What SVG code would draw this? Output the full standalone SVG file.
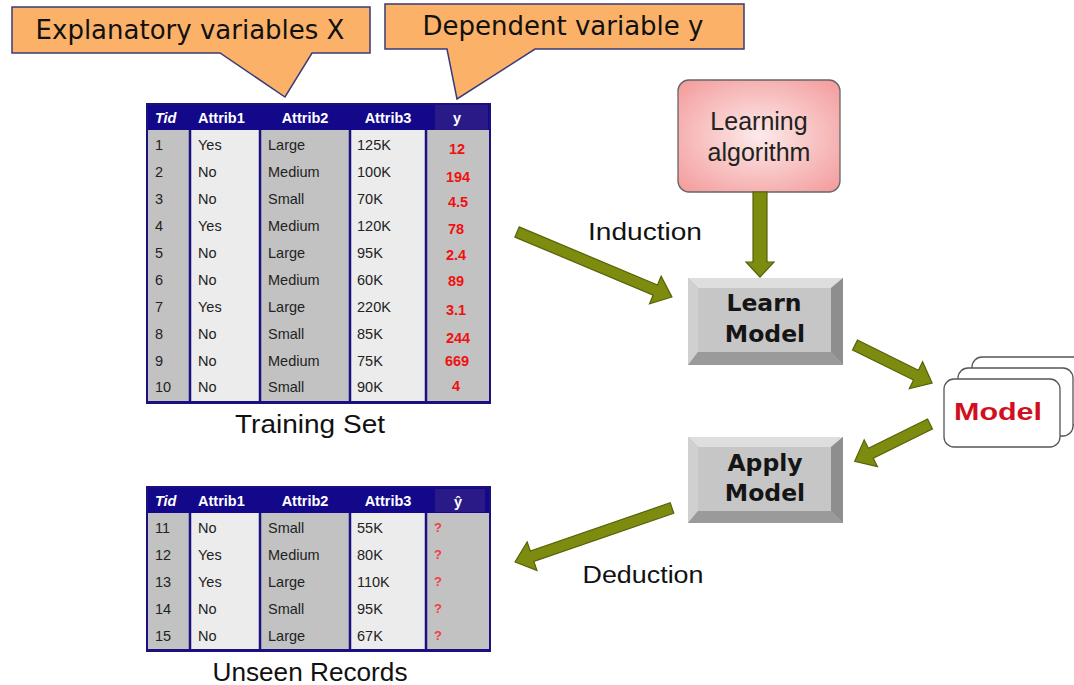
<svg xmlns="http://www.w3.org/2000/svg" width="1074" height="685" viewBox="0 0 1074 685">
<style>
.callout{fill:#fbb268;stroke:#3a3a7a;stroke-width:1.5}
.ct{font-family:"DejaVu Sans",Verdana,sans-serif;font-size:26px;fill:#111;text-anchor:middle}
.hd{font-family:"Liberation Sans",Arial,sans-serif;font-size:14.5px;font-weight:bold;fill:#fff}
.cell{font-family:"Liberation Sans",Arial,sans-serif;font-size:14.5px;fill:#222}
.yv{font-family:"Liberation Sans",Arial,sans-serif;font-size:14.5px;font-weight:bold;fill:#f01010;text-anchor:middle}
.q{font-family:"Liberation Sans",Arial,sans-serif;font-size:13px;font-weight:bold;fill:#f04040}
.cap{font-family:"Liberation Sans",Arial,sans-serif;fill:#111;text-anchor:middle}
.btn{font-family:"DejaVu Sans",Verdana,sans-serif;font-size:23.5px;font-weight:bold;fill:#151515;text-anchor:middle}
.gray{fill:#c2c2c2}
.light{fill:#ececec}
.sep{stroke:#1a1080;stroke-width:2.5}
.arr{fill:#7d8c0e;stroke:#56620a;stroke-width:1.2}
.mcard{fill:#fff;stroke:#555;stroke-width:1.3}
</style>
<defs>
<radialGradient id="pink" cx="0.5" cy="0.5" r="0.7">
<stop offset="0" stop-color="#fdeaea"/>
<stop offset="1" stop-color="#f39a9a"/>
</radialGradient>
</defs>
<rect width="1074" height="685" fill="#fff"/>

<g id="callout-x">
<path class="callout" d="M12,7 H370 V53 H312 L285,97 L220,53 H12 Z"/>
<text class="ct" x="190" y="39">Explanatory variables X</text>
</g>
<g id="callout-y">
<path class="callout" d="M385,4 H744 V49 H535 L457,99 L447,49 H385 Z"/>
<text class="ct" x="563" y="35">Dependent variable y</text>
</g>

<g id="training-set">
<rect x="147" y="104" width="343" height="26" fill="#14088a"/>
<rect x="435" y="104" width="53" height="26" fill="#2a1a88"/>
<rect class="gray" x="147" y="130" width="43" height="273"/>
<rect class="light" x="190" y="130" width="70" height="273"/>
<rect class="gray" x="260" y="130" width="90" height="273"/>
<rect class="light" x="350" y="130" width="76" height="273"/>
<rect class="gray" x="426" y="130" width="64" height="273"/>
<line class="sep" x1="190" y1="130" x2="190" y2="403"/>
<line class="sep" x1="260" y1="130" x2="260" y2="403"/>
<line class="sep" x1="350" y1="130" x2="350" y2="403"/>
<line class="sep" x1="426" y1="130" x2="426" y2="403"/>
<rect x="147" y="104" width="343" height="299" fill="none" stroke="#1a1080" stroke-width="2"/>
<line x1="146" y1="402.5" x2="491" y2="402.5" stroke="#1a1080" stroke-width="3"/>
<text class="hd" x="155" y="123" font-style="italic">Tid</text>
<text class="hd" x="198" y="123">Attrib1</text>
<text class="hd" x="305" y="123" text-anchor="middle">Attrib2</text>
<text class="hd" x="388" y="123" text-anchor="middle">Attrib3</text>
<text class="hd" x="457" y="123" text-anchor="middle" font-size="16">y</text>
<g class="cell">
<text x="155" y="150">1</text><text x="198" y="150">Yes</text><text x="268" y="150">Large</text><text x="357" y="150">125K</text>
<text x="155" y="177">2</text><text x="198" y="177">No</text><text x="268" y="177">Medium</text><text x="357" y="177">100K</text>
<text x="155" y="204">3</text><text x="198" y="204">No</text><text x="268" y="204">Small</text><text x="357" y="204">70K</text>
<text x="155" y="231">4</text><text x="198" y="231">Yes</text><text x="268" y="231">Medium</text><text x="357" y="231">120K</text>
<text x="155" y="258">5</text><text x="198" y="258">No</text><text x="268" y="258">Large</text><text x="357" y="258">95K</text>
<text x="155" y="285">6</text><text x="198" y="285">No</text><text x="268" y="285">Medium</text><text x="357" y="285">60K</text>
<text x="155" y="312">7</text><text x="198" y="312">Yes</text><text x="268" y="312">Large</text><text x="357" y="312">220K</text>
<text x="155" y="339">8</text><text x="198" y="339">No</text><text x="268" y="339">Small</text><text x="357" y="339">85K</text>
<text x="155" y="366">9</text><text x="198" y="366">No</text><text x="268" y="366">Medium</text><text x="357" y="366">75K</text>
<text x="155" y="392">10</text><text x="198" y="392">No</text><text x="268" y="392">Small</text><text x="357" y="392">90K</text>
</g>
<text class="yv" x="457" y="154">12</text>
<text class="yv" x="458" y="182">194</text>
<text class="yv" x="458" y="207">4.5</text>
<text class="yv" x="456" y="234">78</text>
<text class="yv" x="456" y="260">2.4</text>
<text class="yv" x="456" y="286">89</text>
<text class="yv" x="456" y="315">3.1</text>
<text class="yv" x="458" y="343">244</text>
<text class="yv" x="457" y="366">669</text>
<text class="yv" x="456" y="391">4</text>
<text class="cap" x="310" y="433" font-size="26" textLength="150" lengthAdjust="spacingAndGlyphs">Training Set</text>
</g>

<g id="unseen-records">
<rect x="147" y="487" width="343" height="26" fill="#14088a"/>
<rect x="435" y="489" width="50" height="23" fill="#2a1a88"/>
<rect class="gray" x="147" y="513" width="43" height="138"/>
<rect class="light" x="190" y="513" width="70" height="138"/>
<rect class="gray" x="260" y="513" width="90" height="138"/>
<rect class="light" x="350" y="513" width="76" height="138"/>
<rect class="gray" x="426" y="513" width="64" height="138"/>
<line class="sep" x1="190" y1="513" x2="190" y2="651"/>
<line class="sep" x1="260" y1="513" x2="260" y2="651"/>
<line class="sep" x1="350" y1="513" x2="350" y2="651"/>
<line class="sep" x1="426" y1="513" x2="426" y2="651"/>
<rect x="147" y="487" width="343" height="164" fill="none" stroke="#1a1080" stroke-width="2"/>
<line x1="146" y1="650.5" x2="491" y2="650.5" stroke="#1a1080" stroke-width="3"/>
<text class="hd" x="155" y="506" font-style="italic">Tid</text>
<text class="hd" x="198" y="506">Attrib1</text>
<text class="hd" x="305" y="506" text-anchor="middle">Attrib2</text>
<text class="hd" x="388" y="506" text-anchor="middle">Attrib3</text>
<text class="hd" x="458" y="507" text-anchor="middle" font-size="19">ŷ</text>
<g class="cell">
<text x="155" y="533">11</text><text x="198" y="533">No</text><text x="268" y="533">Small</text><text x="357" y="533">55K</text>
<text x="155" y="560">12</text><text x="198" y="560">Yes</text><text x="268" y="560">Medium</text><text x="357" y="560">80K</text>
<text x="155" y="587">13</text><text x="198" y="587">Yes</text><text x="268" y="587">Large</text><text x="357" y="587">110K</text>
<text x="155" y="614">14</text><text x="198" y="614">No</text><text x="268" y="614">Small</text><text x="357" y="614">95K</text>
<text x="155" y="641">15</text><text x="198" y="641">No</text><text x="268" y="641">Large</text><text x="357" y="641">67K</text>
</g>
<text class="q" x="434" y="532">?</text>
<text class="q" x="434" y="559">?</text>
<text class="q" x="434" y="586">?</text>
<text class="q" x="434" y="613">?</text>
<text class="q" x="434" y="640">?</text>
<text class="cap" x="310" y="681" font-size="25" textLength="195" lengthAdjust="spacingAndGlyphs">Unseen Records</text>
</g>

<g id="learning-algorithm">
<rect x="678" y="80" width="162" height="112" rx="11" fill="url(#pink)" stroke="#666" stroke-width="1.3"/>
<text x="759" y="130" font-family="Liberation Sans,Arial,sans-serif" font-size="25" fill="#222" text-anchor="middle">Learning</text>
<text x="759" y="161" font-family="Liberation Sans,Arial,sans-serif" font-size="25" fill="#222" text-anchor="middle">algorithm</text>
</g>

<g id="learn-model">
<rect x="688" y="278" width="155" height="87" fill="#b8b8b8"/>
<polygon points="688,278 843,278 831,288 698,288" fill="#dedede"/>
<polygon points="688,278 698,288 698,352 688,365" fill="#d0d0d0"/>
<polygon points="843,278 843,365 831,352 831,288" fill="#8e8e8e"/>
<polygon points="688,365 843,365 831,352 698,352" fill="#9a9a9a"/>
<rect x="698" y="288" width="133" height="64" fill="#c6c6c6"/>
<text class="btn" x="764" y="311">Learn</text>
<text class="btn" x="765" y="342">Model</text>
</g>

<g id="apply-model">
<rect x="688" y="437" width="155" height="86" fill="#b8b8b8"/>
<polygon points="688,437 843,437 831,447 698,447" fill="#dedede"/>
<polygon points="688,437 698,447 698,511 688,523" fill="#d0d0d0"/>
<polygon points="843,437 843,523 831,511 831,447" fill="#8e8e8e"/>
<polygon points="688,523 843,523 831,511 698,511" fill="#9a9a9a"/>
<rect x="698" y="447" width="133" height="64" fill="#c6c6c6"/>
<text class="btn" x="765" y="471">Apply</text>
<text class="btn" x="765" y="501">Model</text>
</g>

<g id="model">
<rect class="mcard" x="972" y="357" width="115" height="68" rx="10"/>
<rect class="mcard" x="958" y="368" width="115" height="68" rx="10"/>
<rect class="mcard" x="944" y="379" width="116" height="68" rx="10"/>
<text x="998" y="420" font-family="Liberation Sans,Arial,sans-serif" font-size="24" font-weight="bold" fill="#d01020" text-anchor="middle" textLength="88" lengthAdjust="spacingAndGlyphs">Model</text>
</g>

<g id="labels">
<text x="645" y="240" font-family="Liberation Sans,Arial,sans-serif" font-size="23" fill="#111" text-anchor="middle" textLength="114" lengthAdjust="spacingAndGlyphs">Induction</text>
<text x="643" y="583" font-family="Liberation Sans,Arial,sans-serif" font-size="23" fill="#111" text-anchor="middle" textLength="121" lengthAdjust="spacingAndGlyphs">Deduction</text>
</g>

<g id="connectors">
<g transform="translate(517,232) rotate(22.75)"><path class="arr" d="M0,-5.5 H150 V-15 L168,0 L150,15 V5.5 H0 Z"/></g>
<g transform="translate(760,192) rotate(90)"><path class="arr" d="M0,-7 H70 V-14 L85,0 L70,14 V7 H0 Z"/></g>
<g transform="translate(855,345) rotate(26.3)"><path class="arr" d="M0,-5.5 H68 V-15 L86,0 L68,15 V5.5 H0 Z"/></g>
<g transform="translate(930,424) rotate(153.7)"><path class="arr" d="M0,-5.5 H66 V-15 L84,0 L66,15 V5.5 H0 Z"/></g>
<g transform="translate(672,508) rotate(161)"><path class="arr" d="M0,-5.5 H148 V-15 L166,0 L148,15 V5.5 H0 Z"/></g>
</g>
</svg>
